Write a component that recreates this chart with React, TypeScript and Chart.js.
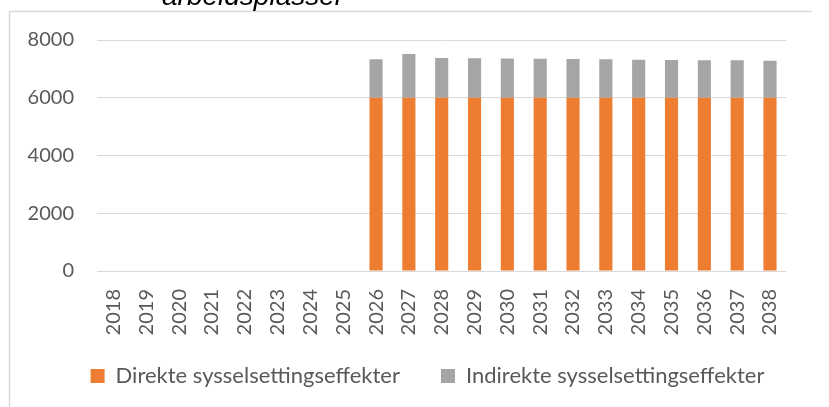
import React, { useEffect, useRef } from "react";
import { Chart, registerables } from "chart.js";

Chart.register(...registerables);

const years = ["2018","2019","2020","2021","2022","2023","2024","2025","2026","2027","2028","2029","2030","2031","2032","2033","2034","2035","2036","2037","2038"];
const direkte = [0,0,0,0,0,0,0,0,6000,6000,6000,6000,6000,6000,6000,6000,6000,6000,6000,6000,6000];
const indirekte = [0,0,0,0,0,0,0,0,1330,1515,1375,1365,1355,1350,1340,1330,1320,1310,1300,1295,1285];
const seriesNames = ["Direkte sysselsettingseffekter", "Indirekte sysselsettingseffekter"];
const titleText = "arbeidsplasser";
const yTicks = [0, 2000, 4000, 6000, 8000];

const FONT = "Lato, 'Open Sans', sans-serif";
const TEXT_COLOR = "#595959";
const GRID = "#d9d9d9";

const LEGEND_DX = 21.5;
const LEGEND_DY = -13;

const framePlugin = {
  id: "frame",
  afterLayout(chart: any) {
    const lg = chart.legend;
    if (lg) {
      lg.left += LEGEND_DX;
      lg.right += LEGEND_DX;
      lg.top += LEGEND_DY;
      lg.bottom += LEGEND_DY;
    }
  },
  beforeDraw(chart: any) {
    const ctx = chart.ctx;
    ctx.save();
    ctx.fillStyle = "#ffffff";
    ctx.fillRect(0, 0, chart.width, chart.height);
    ctx.strokeStyle = GRID;
    ctx.lineWidth = 1.5;
    ctx.strokeRect(9.5, 11.5, chart.width + 50, chart.height + 50);
    ctx.restore();
  },
  afterDraw(chart: any) {
    const ctx = chart.ctx;
    ctx.save();
    ctx.fillStyle = "#000000";
    ctx.font = "italic 28px 'Liberation Sans', Arial, sans-serif";
    ctx.textBaseline = "alphabetic";
    ctx.textAlign = "left";
    ctx.fillText(titleText, 162, 5);
    ctx.restore();
  },
};

export default function App() {
  const ref = useRef<HTMLCanvasElement | null>(null);

  useEffect(() => {
    if (!ref.current) return;
    const chart = new Chart(ref.current, {
      type: "bar",
      data: {
        labels: years,
        datasets: [
          {
            label: seriesNames[0],
            data: direkte,
            backgroundColor: "#ED7D31",
            barPercentage: 0.4,
            categoryPercentage: 1,
          },
          {
            label: seriesNames[1],
            data: indirekte,
            backgroundColor: "#A5A5A5",
            barPercentage: 0.4,
            categoryPercentage: 1,
          },
        ],
      },
      plugins: [framePlugin],
      options: {
        animation: false,
        responsive: false,
        maintainAspectRatio: false,
        layout: { padding: { left: 0, right: 0, top: 40, bottom: 0 } },
        plugins: {
          tooltip: { enabled: false },
          title: { display: false },
          legend: {
            position: "bottom",
            labels: {
              boxWidth: 14,
              boxHeight: 14,
              padding: 41,
              color: TEXT_COLOR,
              font: { family: FONT, size: 22 },
            },
          },
        },
        scales: {
          x: {
            stacked: true,
            grid: { display: false, drawTicks: false },
            border: { display: false },
            ticks: {
              autoSkip: false,
              maxRotation: 90,
              minRotation: 90,
              padding: 18,
              color: TEXT_COLOR,
              font: { family: FONT, size: 20 },
            },
            afterFit(scale: any) {
              scale.height = 66;
            },
          },
          y: {
            stacked: true,
            min: 0,
            max: 8000,
            afterBuildTicks(scale: any) {
              scale.ticks = yTicks.map((v) => ({ value: v }));
            },
            grid: { color: GRID, lineWidth: 1, drawTicks: false },
            border: { display: false },
            ticks: {
              padding: 23,
              color: TEXT_COLOR,
              font: { family: FONT, size: 20 },
              callback: (v: any) => String(v),
            },
            afterFit(scale: any) {
              scale.width = 97;
            },
          },
        },
      },
    });
    return () => chart.destroy();
  }, []);

  return (
    <div style={{ position: "fixed", left: 0, top: 0, width: 829, height: 407, overflow: "hidden", background: "#fff" }}>
      <canvas ref={ref} width={812} height={410} style={{ display: "block", width: 812, height: 410 }} />
    </div>
  );
}
